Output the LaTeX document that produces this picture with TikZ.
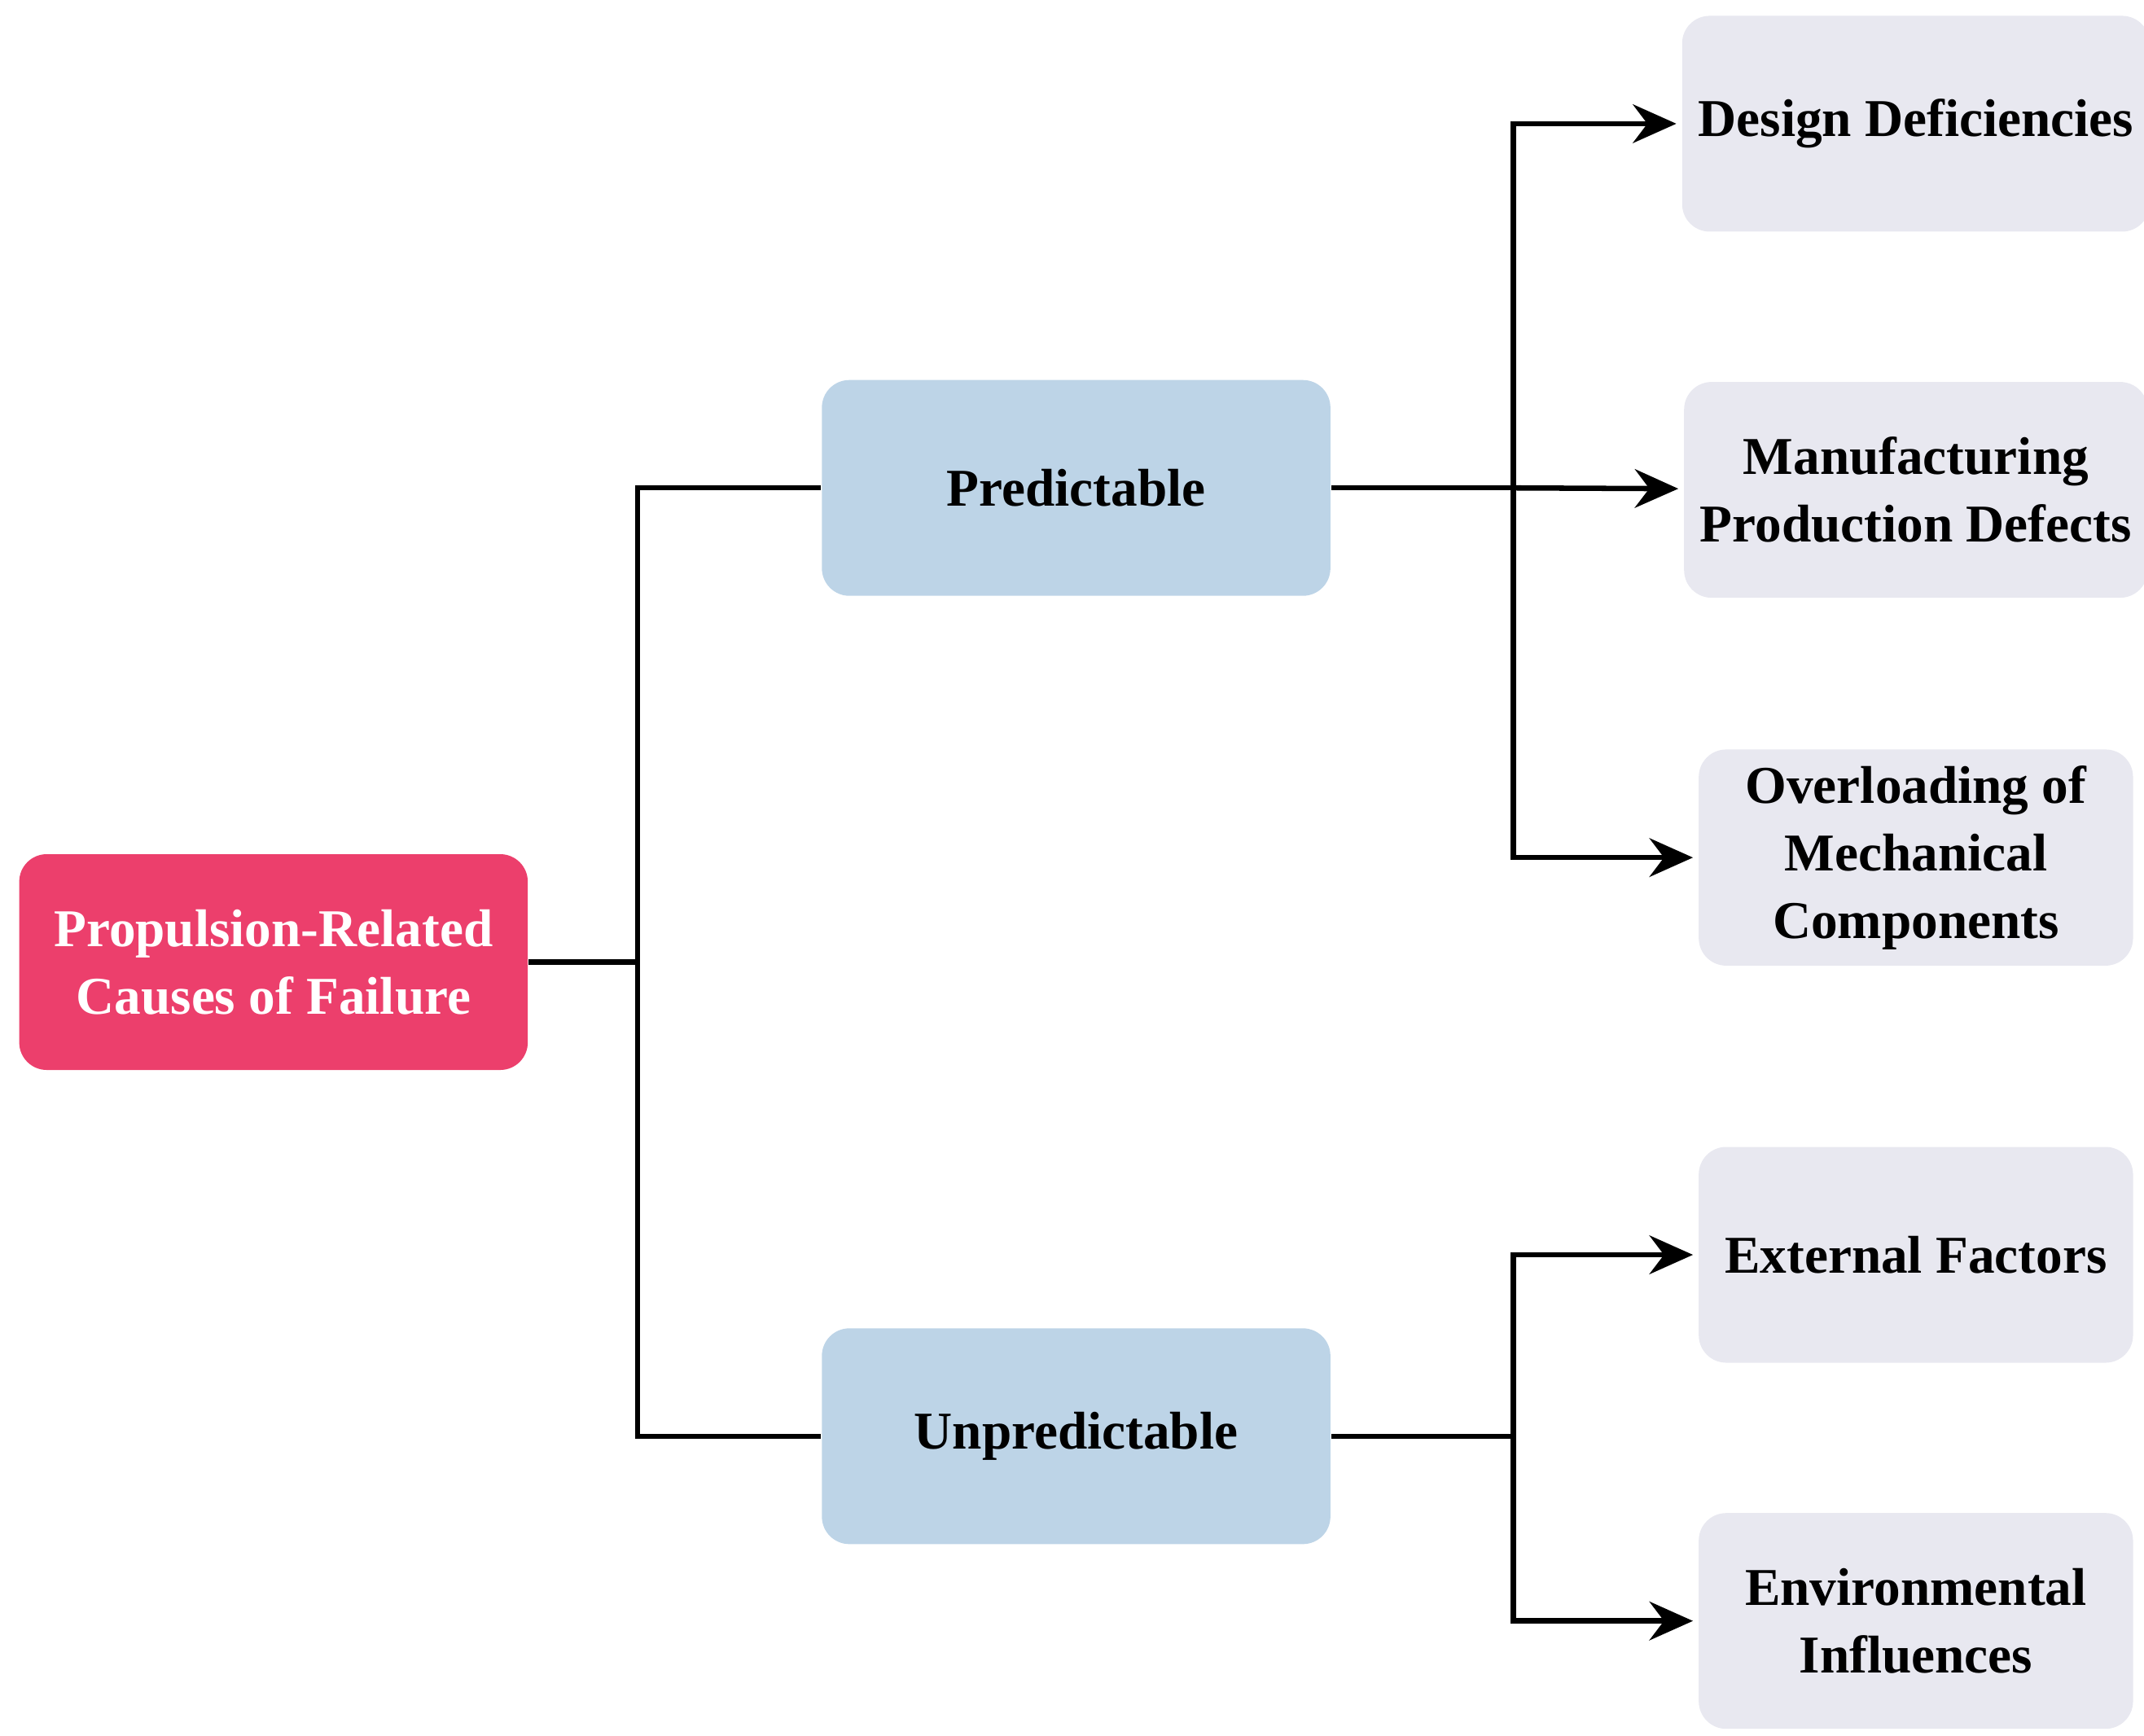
\documentclass[tikz,border=0pt]{standalone}
\usepackage{fontspec}
\setmainfont{Liberation Serif}
\usepackage{tikz}
\usetikzlibrary{positioning,arrows.meta}
\definecolor{rootred}{HTML}{EC3F6C}
\definecolor{midblue}{HTML}{BDD4E7}
\definecolor{leafgrey}{HTML}{E8E8F0}
\tikzset{
  box/.style={rounded corners=0.2cm,minimum width=3.7cm,minimum height=1.57cm,
    align=center,font=\fontsize{11}{14}\selectfont\bfseries},
  root/.style={box,fill=rootred,text=white},
  mid/.style={box,fill=midblue},
  leaf/.style={box,fill=leafgrey,minimum width=3.16cm},
  link/.style={line width=1.1pt},
  arr/.style={link,-{Stealth[length=9pt,width=8pt,inset=3pt]},shorten >=1pt}
}
\begin{document}
\begin{tikzpicture}[node distance=1cm]
\useasboundingbox (0,0) rectangle (15.6,-12.63);
\node[root] (cause) at (1.99,-7.00) {Propulsion-Related\\Causes of Failure};
\node[mid] (pred) at (7.83,-3.55) {Predictable};
\node[mid] (unpred) at (7.83,-10.45) {Unpredictable};
\node[leaf] (design) at (13.94,-0.90) {Design Deficiencies};
\node[leaf] (manu) [below=1.08cm of design] {Manufacturing\\Production Defects};
\node[leaf] (over) [below=1.09cm of manu] {Overloading of\\Mechanical\\Components};
\node[leaf] (ext) at (13.94,-9.13) {External Factors};
\node[leaf] (env) [below=1.08cm of ext] {Environmental\\Influences};
% junctions
\coordinate (j1) at (4.64,-7.00);
\coordinate (j2) at (11.01,-3.55);
\coordinate (j3) at (11.01,-10.45);
\draw[link] (cause) -- (j1) |- (pred);
\draw[link] (j1) |- (unpred);
\draw[link] (pred) -- (j2);
\draw[arr] (j2) |- (design);
\draw[arr] (j2) -- (manu);
\draw[arr] (j2) |- (over);
\draw[link] (unpred) -- (j3);
\draw[arr] (j3) |- (ext);
\draw[arr] (j3) |- (env);
\end{tikzpicture}
\end{document}
